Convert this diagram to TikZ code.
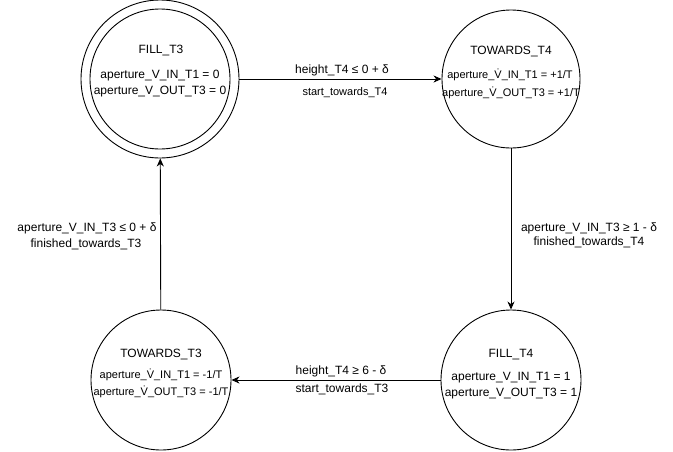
\documentclass[tikz,border=0pt]{standalone}
\usepackage{fontspec}
\setmainfont{Liberation Sans}
\usetikzlibrary{arrows.meta}
\newcommand\Vdt{V^^^^0307}
\begin{document}
\begin{tikzpicture}[x=1pt,y=-1pt,
  state/.style={draw=black,line width=0.9pt,circle,minimum size=140pt,inner sep=0pt},
  txt/.style={anchor=base,inner sep=0pt,text=black,font=\fontsize{12}{14}\selectfont},
  stxt/.style={anchor=base,inner sep=0pt,text=black,font=\fontsize{11}{13}\selectfont},
  arr/.style={draw=black,line width=0.9pt,-{Stealth[length=8pt,width=7pt,inset=2.5pt]}}]
\useasboundingbox (0,0) rectangle (673,451);
% states
\node[state,minimum size=158pt] (fill3) at (160,79) {};
\node[state] (fill3in) at (160,79) {};
\node[state,minimum size=138pt] (tow4) at (511,79) {};
\node[state] (fill4) at (511,380) {};
\node[state] (tow3) at (161,380) {};
% state texts
\node[txt] (f3t) at (161,53) {FILL\_T3};
\node[txt] (f3a) at (160,78) {aperture\_V\_IN\_T1 = 0};
\node[txt] (f3b) at (160,94) {aperture\_V\_OUT\_T3 = 0};
\node[txt] (t4t) at (511,54) {TOWARDS\_T4};
\node[stxt] (t4a) at (510,78) {aperture\_\Vdt\_IN\_T1 = +1/T};
\node[stxt] (t4b) at (511,96) {aperture\_\Vdt\_OUT\_T3 = +1/T};
\node[txt] (f4t) at (511,357) {FILL\_T4};
\node[txt] (f4a) at (511,380) {aperture\_V\_IN\_T1 = 1};
\node[txt] (f4b) at (511,396) {aperture\_V\_OUT\_T3 = 1};
\node[txt] (t3t) at (161,357) {TOWARDS\_T3};
\node[stxt] (t3a) at (161,378) {aperture\_\Vdt\_IN\_T1 = -1/T};
\node[stxt] (t3b) at (161,395) {aperture\_\Vdt\_OUT\_T3 = -1/T};
% connectors
\draw[arr] (fill3) -- (tow4);
\draw[arr] (tow4) -- (fill4);
\draw[arr] (fill4) -- (tow3);
\draw[arr] (tow3) -- (fill3);
% edge labels
\node[txt] (e1a) at (342,73) {height\_T4 ≤ 0 + δ};
\node[stxt] (e1b) at (345,95) {start\_towards\_T4};
\node[txt] (e2a) at (589,231) {aperture\_V\_IN\_T3 ≥ 1 - δ};
\node[txt] (e2b) at (589,245) {finished\_towards\_T4};
\node[txt] (e3a) at (341,374) {height\_T4 ≥ 6 - δ};
\node[txt] (e3b) at (342,392) {start\_towards\_T3};
\node[txt] (e4a) at (87,231) {aperture\_V\_IN\_T3 ≤ 0 + δ};
\node[txt] (e4b) at (86,247) {finished\_towards\_T3};
\end{tikzpicture}
\end{document}
